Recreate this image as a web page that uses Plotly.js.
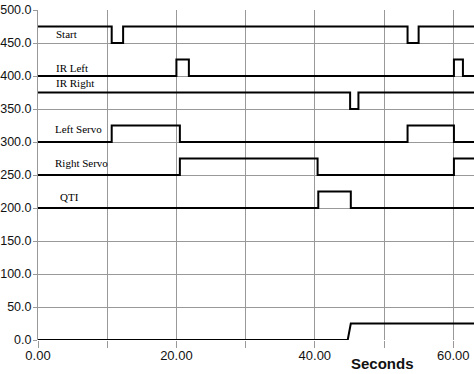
<!DOCTYPE html>
<html><head><meta charset="utf-8">
<script src="https://cdn.plot.ly/plotly-3.0.1.min.js"></script>
<style>html,body{margin:0;padding:0;background:#fff;}#chart{width:474px;height:374px;}</style>
</head><body><div id="chart"></div>
<script>
// Signal step data (time in seconds, level value)
var startT = [0, 10.65, 12.3, 53.4, 55.0, 63];
var startV = [475, 450, 475, 450, 475, 475];
var irLeftT = [0, 20.0, 21.8, 60.1, 61.4, 63];
var irLeftV = [400, 425, 400, 425, 400, 400];
var irRightT = [0, 45.1, 46.3, 63];
var irRightV = [375, 350, 375, 375];
var leftServoT = [0, 10.65, 20.5, 53.4, 60.1, 63];
var leftServoV = [300, 325, 300, 325, 300, 300];
var rightServoT = [0, 20.5, 40.4, 60.1, 63];
var rightServoV = [250, 275, 250, 275, 275];
var qtiT = [0, 40.5, 45.2, 63];
var qtiV = [200, 225, 200, 200];
var bottomT = [0, 44.75, 45.2, 63];
var bottomV = [0, 0, 25, 25];
var signalNames = ["Start", "IR Left", "IR Right", "Left Servo", "Right Servo", "QTI"];
var xTickVals = [0, 10, 20, 30, 40, 50, 60];
var xTickText = ["0.00", "", "20.00", "", "40.00", "", "60.00"];

var series = [
  [startT, startV, "hv"], [irLeftT, irLeftV, "hv"], [irRightT, irRightV, "hv"],
  [leftServoT, leftServoV, "hv"], [rightServoT, rightServoV, "hv"], [qtiT, qtiV, "hv"],
  [bottomT, bottomV, "linear"]
];
var traces = series.map(function(s){
  return {x: s[0], y: s[1], mode: "lines", line: {color: "#000", width: 2, shape: s[2]}, hoverinfo: "skip"};
});

var labelPos = [[2.3, 463], [2.3, 412], [2.3, 389], [2.2, 320], [2.2, 268], [2.9, 217]];
var annotations = signalNames.map(function(n, i){
  return {text: n, x: labelPos[i][0], y: labelPos[i][1], xref: "x", yref: "y", xanchor: "left", yanchor: "middle",
    showarrow: false, font: {family: "Liberation Serif", size: 11, color: "#000"}};
});
annotations.push({text: "<b>Seconds</b>", x: 49.8, xref: "x", y: -0.07, yref: "paper",
  xanchor: "center", yanchor: "middle", showarrow: false, font: {family: "Liberation Sans", size: 15, color: "#111"}});

var layout = {
  width: 474, height: 374,
  margin: {l: 38, r: 0, t: 10, b: 34},
  paper_bgcolor: "#fff", plot_bgcolor: "#fff",
  showlegend: false,
  xaxis: {range: [0, 63], tickvals: xTickVals, ticktext: xTickText, showgrid: true, gridcolor: "#999", gridwidth: 1,
    ticks: "outside", ticklen: 7, tickcolor: "#999", zeroline: false, showline: false, ticklabelstandoff: -4,
    tickfont: {family: "Liberation Sans", size: 13, color: "#111"}},
  yaxis: {range: [0, 500], dtick: 50, tickformat: ".1f", showgrid: true, gridcolor: "#999", gridwidth: 1,
    ticks: "outside", ticklen: 4, tickcolor: "#999", zeroline: false, showline: true, linecolor: "#999", linewidth: 1,
    ticklabelstandoff: -1,
    tickfont: {family: "Liberation Sans", size: 12.5, color: "#111"}},
  annotations: annotations
};
Plotly.newPlot("chart", traces, layout, {staticPlot: true, displayModeBar: false});
</script></body></html>
